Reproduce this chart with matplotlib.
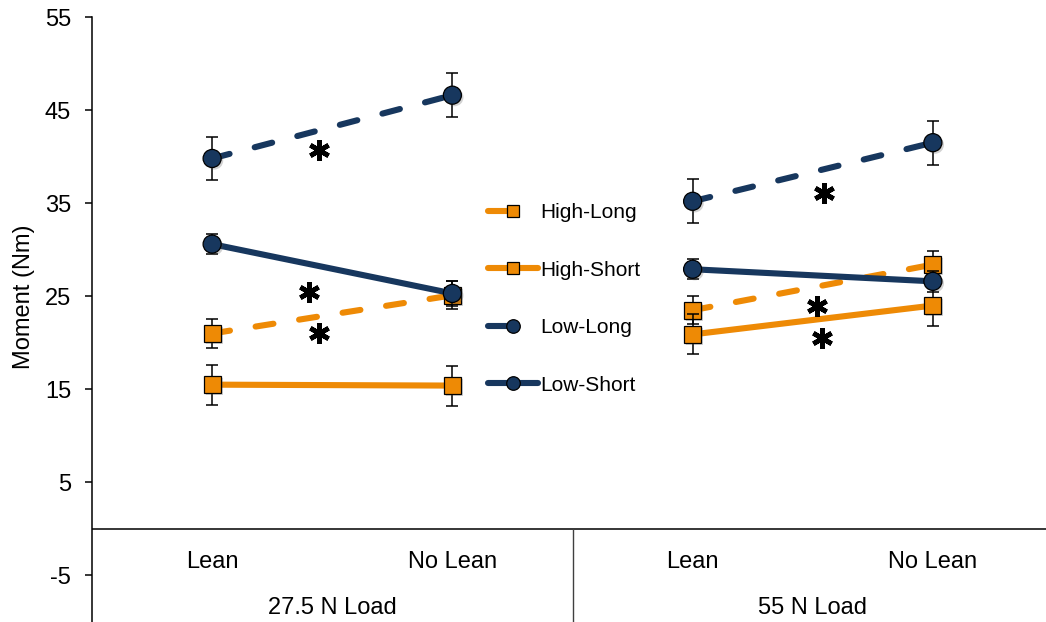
import numpy as np
import matplotlib
matplotlib.use("Agg")
import matplotlib.pyplot as plt
from matplotlib.lines import Line2D
import matplotlib.patheffects as pe

plt.rcParams["font.family"] = ["Liberation Sans", "DejaVu Sans"]
plt.rcParams["lines.scale_dashes"] = False
plt.rcParams["axes.unicode_minus"] = False

# Conditions on the x axis, grouped by load
conditions = ["Lean", "No Lean", "Lean", "No Lean"]
loads = ["27.5 N Load", "55 N Load"]

# Mean moment (Nm) and error for each series, ordered as in `conditions`
series_names = ["High-Long", "High-Short", "Low-Long", "Low-Short"]
high_long = [21.0, 25.1, 23.5, 28.4]
high_long_err = [1.6, 1.5, 1.5, 1.5]
high_short = [15.5, 15.4, 20.9, 24.0]
high_short_err = [2.15, 2.15, 2.15, 2.15]
low_long = [39.8, 46.6, 35.2, 41.5]
low_long_err = [2.35, 2.35, 2.35, 2.35]
low_short = [30.6, 25.3, 27.9, 26.6]
low_short_err = [1.1, 1.3, 1.1, 1.1]

# Significance markers (x in category units, y in Nm)
star_x = [0.445, 0.404, 0.445, 2.547, 2.518, 2.537]
star_y = [40.7, 25.5, 21.0, 36.1, 24.0, 20.5]

orange = "#EE8A05"
navy = "#17375E"

styles = {
    "High-Long": dict(color=orange, marker="s", ms=12.2, dashed=True),
    "High-Short": dict(color=orange, marker="s", ms=12.2, dashed=False),
    "Low-Long": dict(color=navy, marker="o", ms=13, dashed=True),
    "Low-Short": dict(color=navy, marker="o", ms=13, dashed=False),
}
data = {
    "High-Long": (high_long, high_long_err),
    "High-Short": (high_short, high_short_err),
    "Low-Long": (low_long, low_long_err),
    "Low-Short": (low_short, low_short_err),
}

W, H = 1046, 622
fig = plt.figure(figsize=(W / 100, H / 100), dpi=100)
ax = fig.add_axes([92 / W, 0, 961 / W, 605 / H])
ax.set_xlim(-0.5, 3.5)
ax.set_ylim(-10, 55)

dash_pattern = (0, (13, 18.7))
lw = 4.4
x = np.arange(len(conditions))
shadow = [pe.SimplePatchShadow(offset=(1.5, -1.5), alpha=0.25, shadow_rgbFace="0.3"), pe.Normal()]

for k, name in enumerate(series_names):
    st = styles[name]
    vals, errs = data[name]
    vals = np.asarray(vals)
    errs = np.asarray(errs)
    z = 2 + k * 0.1
    for g in range(2):
        idx = [2 * g, 2 * g + 1]
        ax.plot(x[idx], vals[idx], color=st["color"], lw=lw,
                linestyle=dash_pattern if st["dashed"] else "-",
                dash_capstyle="round", solid_capstyle="round", zorder=z)
    ax.errorbar(x, vals, yerr=errs, fmt="none", ecolor="black", elinewidth=1.1,
                capsize=4, capthick=1.1, zorder=z + 0.02)
    ax.plot(x, vals, linestyle="none", marker=st["marker"], ms=st["ms"],
            mfc=st["color"], mec="black", mew=0.9, zorder=z + 0.05,
            path_effects=shadow)

ax.plot(star_x, star_y, linestyle="none", marker=(6, 2, 0), ms=15,
        mew=3.4, color="black", zorder=5)

# Axes styling
for side in ["top", "right", "bottom"]:
    ax.spines[side].set_visible(False)
ax.spines["left"].set_linewidth(1.1)
ax.set_yticks(np.arange(-5, 56, 10))
ax.tick_params(axis="y", direction="out", length=5, width=1.1, pad=10,
               labelsize=17)
ax.set_xticks([])
ax.set_ylabel("Moment (Nm)", fontsize=17)
ax.yaxis.set_label_coords(-57 / 961, (622 - 297) / 605)

ax.axhline(0, color="black", lw=1.1, zorder=1)
ax.plot([1.5, 1.5], [0, -10], color="0.25", lw=1.0, clip_on=False, zorder=1)

for xi, lab in zip(x, conditions):
    ax.text(xi, -3.6, lab, ha="center", va="center", fontsize=17)
for gi, lab in enumerate(loads):
    ax.text(2 * gi + 0.5, -8.45, lab, ha="center", va="center", fontsize=17)

# Legend with proxy handles
handles = []
for name in series_names:
    st = styles[name]
    ls = (0, (16, 200)) if st["dashed"] else "-"
    handles.append(Line2D([], [], color=st["color"], lw=lw, linestyle=ls,
                          dash_capstyle="round", solid_capstyle="round",
                          marker=st["marker"], ms=st["ms"] * 0.75,
                          mfc=st["color"], mec="black", mew=0.9))
leg = fig.legend(handles, series_names, loc="upper left",
                 bbox_to_anchor=(488 / W, 1 - 203 / H),
                 frameon=False, fontsize=15, handlelength=2.4,
                 handletextpad=0.12, labelspacing=1.85, borderpad=0,
                 borderaxespad=0, numpoints=1)

fig.savefig("out.png", dpi=100)
